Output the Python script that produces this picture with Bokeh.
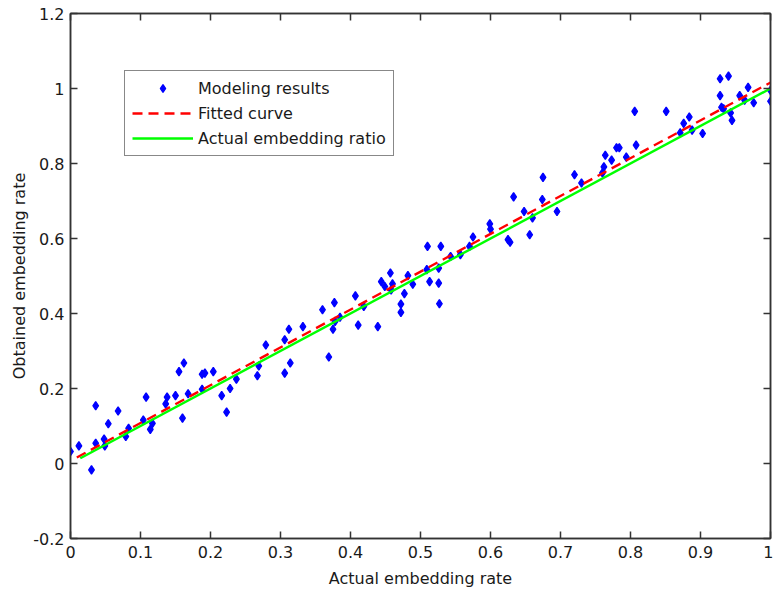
from bokeh.plotting import figure
from bokeh.models import Range1d, LinearAxis, FixedTicker, Legend, LegendItem
from bokeh.embed import file_html
from bokeh.resources import INLINE

# ---- data ----
model_x = [0.000, 0.012, 0.030, 0.036, 0.036, 0.048, 0.049, 0.054, 0.068, 0.079,
           0.083, 0.104, 0.108, 0.114, 0.117, 0.136, 0.138, 0.150, 0.155, 0.160,
           0.162, 0.168, 0.188, 0.188, 0.192, 0.204, 0.216, 0.223, 0.228, 0.237,
           0.267, 0.269, 0.279, 0.306, 0.306, 0.312, 0.314, 0.332, 0.360, 0.369,
           0.375, 0.377, 0.378, 0.385, 0.407, 0.411, 0.419, 0.439, 0.444, 0.449,
           0.457, 0.458, 0.460, 0.472, 0.472, 0.477, 0.482, 0.489, 0.509, 0.510,
           0.513, 0.526, 0.526, 0.527, 0.529, 0.543, 0.557, 0.570, 0.575, 0.599,
           0.600, 0.625, 0.628, 0.633, 0.648, 0.656, 0.660, 0.674, 0.675, 0.695,
           0.720, 0.730, 0.760, 0.762, 0.764, 0.773, 0.780, 0.784, 0.794, 0.806,
           0.808, 0.851, 0.871, 0.876, 0.884, 0.888, 0.903, 0.928, 0.928, 0.930,
           0.933, 0.940, 0.943, 0.945, 0.956, 0.963, 0.968, 0.976, 1.000, 1.000]
model_y = [0.032, 0.047, -0.017, 0.154, 0.054, 0.065, 0.047, 0.106, 0.140, 0.072,
           0.094, 0.116, 0.177, 0.091, 0.107, 0.159, 0.177, 0.181, 0.245, 0.121,
           0.268, 0.186, 0.198, 0.238, 0.241, 0.245, 0.181, 0.137, 0.200, 0.225,
           0.234, 0.260, 0.316, 0.330, 0.241, 0.358, 0.268, 0.365, 0.410, 0.284,
           0.358, 0.429, 0.379, 0.390, 0.447, 0.369, 0.419, 0.365, 0.485, 0.472,
           0.508, 0.463, 0.479, 0.425, 0.403, 0.453, 0.501, 0.478, 0.517, 0.579,
           0.485, 0.481, 0.521, 0.426, 0.579, 0.552, 0.557, 0.579, 0.604, 0.639,
           0.625, 0.597, 0.590, 0.711, 0.672, 0.610, 0.655, 0.704, 0.763, 0.672,
           0.770, 0.748, 0.775, 0.791, 0.822, 0.809, 0.842, 0.842, 0.817, 0.939,
           0.849, 0.939, 0.882, 0.907, 0.924, 0.889, 0.880, 1.026, 0.981, 0.950,
           0.946, 1.033, 0.935, 0.915, 0.981, 0.969, 1.003, 0.962, 0.995, 0.966]

fit_x = [0.009, 1.005]
fit_y = [0.016, 1.021]

actual_x = [0.014, 1.0]
actual_y = [0.014, 1.0]

x_ticks = [0, 0.1, 0.2, 0.3, 0.4, 0.5, 0.6, 0.7, 0.8, 0.9, 1]
x_tick_labels = ["0", "0.1", "0.2", "0.3", "0.4", "0.5", "0.6", "0.7", "0.8", "0.9", "1"]
y_ticks = [-0.2, 0, 0.2, 0.4, 0.6, 0.8, 1, 1.2]
y_tick_labels = ["-0.2", "0", "0.2", "0.4", "0.6", "0.8", "1", "1.2"]

series_names = ["Modeling results", "Fitted curve", "Actual embedding ratio"]
x_title = "Actual embedding rate"
y_title = "Obtained embedding rate"

FONT = "DejaVu Sans"
AX = "#333333"
TXT = "#1a1a1a"

p = figure(frame_width=700, frame_height=525,
           x_range=Range1d(0, 1), y_range=Range1d(-0.2, 1.2),
           output_backend="svg", toolbar_location=None,
           min_border_left=70, min_border_right=3, min_border_top=13,
           min_border_bottom=0)
p.background_fill_color = "white"
p.border_fill_color = "white"
p.outline_line_color = AX
p.outline_line_width = 1.5
p.xgrid.visible = False
p.ygrid.visible = False

def style(ax, ticks, labels, show):
    ax.ticker = FixedTicker(ticks=ticks)
    ax.major_tick_in = 7
    ax.major_tick_out = 0
    ax.minor_tick_in = 0
    ax.minor_tick_out = 0
    ax.axis_line_color = AX
    ax.axis_line_width = 1.5
    ax.major_tick_line_color = AX
    ax.major_tick_line_width = 1.5
    ax.major_label_text_font = FONT
    ax.major_label_text_color = TXT
    ax.axis_label_text_font = FONT
    ax.axis_label_text_color = TXT
    ax.axis_label_text_font_style = "normal"
    if show:
        ax.major_label_overrides = {t: l for t, l in zip(ticks, labels)}
        ax.major_label_text_font_size = "16px"
        ax.axis_label_text_font_size = "16px"
    else:
        ax.major_label_overrides = {t: "" for t in ticks}
        ax.major_label_text_font_size = "1px"
        ax.major_label_standoff = 0

style(p.xaxis[0], x_ticks, x_tick_labels, True)
style(p.yaxis[0], y_ticks, y_tick_labels, True)
p.xaxis[0].axis_label = x_title
p.yaxis[0].axis_label = y_title
p.xaxis[0].major_label_standoff = 7
p.xaxis[0].axis_label_standoff = 8
p.yaxis[0].major_label_standoff = 6
p.yaxis[0].axis_label_standoff = 1

top = LinearAxis()
style(top, x_ticks, x_tick_labels, False)
p.add_layout(top, "above")
right = LinearAxis()
style(right, y_ticks, y_tick_labels, False)
p.add_layout(right, "right")

r_pts = p.scatter(model_x, model_y, marker="diamond", size=8.5,
                  fill_color="#0000ff", line_color="#0000ff", line_width=1.3)
r_fit = p.line(fit_x, fit_y, line_color="#ff0000", line_width=2.4, line_dash="10 6")
r_act = p.line(actual_x, actual_y, line_color="#00ff00", line_width=2.4)

legend = Legend(items=[LegendItem(label=series_names[0], renderers=[r_pts]),
                       LegendItem(label=series_names[1], renderers=[r_fit]),
                       LegendItem(label=series_names[2], renderers=[r_act])],
                location=(54, 382))
legend.border_line_color = "#111111"
legend.border_line_width = 1
legend.background_fill_color = "white"
legend.background_fill_alpha = 1
legend.padding = 7
legend.spacing = 5
legend.margin = 0
legend.glyph_width = 61
legend.glyph_height = 20
legend.label_height = 20
legend.label_standoff = 5
legend.label_text_font = FONT
legend.label_text_font_size = "16px"
legend.label_text_color = TXT
p.add_layout(legend)

open("out.html", "w").write(file_html(p, INLINE))
